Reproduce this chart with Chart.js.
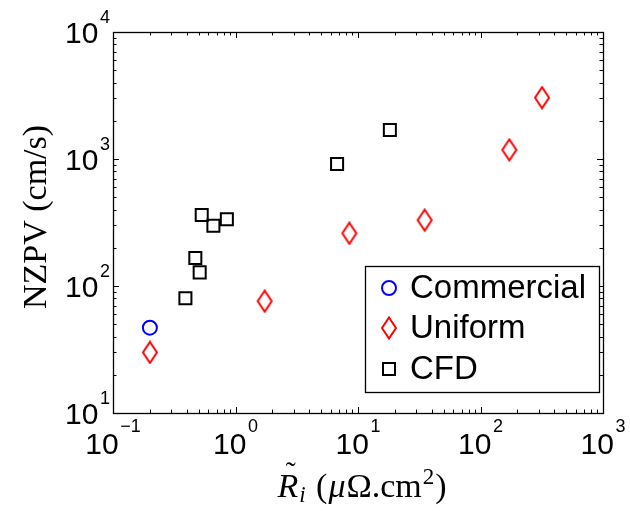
<!DOCTYPE html>
<html>
<head>
<meta charset="utf-8">
<script src="https://cdn.jsdelivr.net/npm/chart.js@4/dist/chart.umd.min.js"></script>
<style>
  body { margin: 0; background: #fff; }
  #wrap { width: 630px; height: 511px; position: relative; }
</style>
</head>
<body>
<div id="wrap"><canvas id="mainChart"></canvas></div>
<script>
// Data
const commercialX = [0.2];
const commercialY = [47];
const uniformX = [0.2, 1.73, 8.5, 35, 172, 318];
const uniformY = [30, 76, 260, 330, 1180, 3040];
const cfdX = [0.39, 0.47, 0.51, 0.53, 0.66, 0.85, 6.75, 18.2];
const cfdY = [80, 166, 128, 362, 298, 335, 914, 1690];

const seriesNames = ['Commercial', 'Uniform', 'CFD'];
const xTicks = [0.1, 1, 10, 100, 1000];
const xTickExp = ['\u22121', '0', '1', '2', '3'];
const yTicks = [10, 100, 1000, 10000];
const yTickExp = ['1', '2', '3', '4'];

function toPoints(xs, ys) {
    return xs.map((x, i) => ({ x: x, y: ys[i] }));
}

// tall diamond marker like matlab's 'd'
function makeDiamond() {
    const c = document.createElement('canvas');
    c.width = 18; c.height = 24;
    const g = c.getContext('2d');
    g.strokeStyle = '#ff0000';
    g.lineWidth = 2;
    g.beginPath();
    g.moveTo(9, 1.5);
    g.lineTo(16, 12);
    g.lineTo(9, 22.5);
    g.lineTo(2, 12);
    g.closePath();
    g.stroke();
    return c;
}
const diamond = makeDiamond();

const tickFont = '30px "Liberation Sans", Arial, sans-serif';
const supFont = '18px "Liberation Sans", Arial, sans-serif';

const axesPlugin = {
    id: 'matlabAxes',
    afterDraw(chart) {
        const ctx = chart.ctx;
        const a = chart.chartArea;
        const xs = chart.scales.x, ys = chart.scales.y;
        ctx.save();
        ctx.strokeStyle = '#000';
        ctx.lineWidth = 1.3;
        ctx.strokeRect(a.left + 0.5, a.top + 0.5, a.right - a.left, a.bottom - a.top);

        // ticks, inward, on all four sides
        ctx.lineWidth = 1;
        ctx.beginPath();
        xTicks.forEach((t, i) => {
            for (let m = 1; m <= 9; m++) {
                if (i === xTicks.length - 1 && m > 1) break;
                const px = Math.round(xs.getPixelForValue(t * m)) + 0.5;
                const len = m === 1 ? 6 : 3.5;
                ctx.moveTo(px, a.bottom); ctx.lineTo(px, a.bottom - len);
                ctx.moveTo(px, a.top); ctx.lineTo(px, a.top + len);
            }
        });
        yTicks.forEach((t, i) => {
            for (let m = 1; m <= 9; m++) {
                if (i === yTicks.length - 1 && m > 1) break;
                const py = Math.round(ys.getPixelForValue(t * m)) + 0.5;
                const len = m === 1 ? 6 : 3.5;
                ctx.moveTo(a.left, py); ctx.lineTo(a.left + len, py);
                ctx.moveTo(a.right, py); ctx.lineTo(a.right - len, py);
            }
        });
        ctx.stroke();

        // tick labels with superscript exponents
        ctx.fillStyle = '#000';
        ctx.textBaseline = 'alphabetic';
        ctx.textAlign = 'left';
        xTicks.forEach((t, i) => {
            const px = xs.getPixelForValue(t);
            ctx.font = tickFont;
            const w1 = ctx.measureText('10').width;
            ctx.font = supFont;
            const w2 = ctx.measureText(xTickExp[i]).width;
            const x0 = px - (w1 + 1.5 + w2) / 2;
            ctx.font = tickFont;
            ctx.fillText('10', x0, a.bottom + 41);
            ctx.font = supFont;
            ctx.fillText(xTickExp[i], x0 + w1 + 1.5, a.bottom + 19);
        });
        yTicks.forEach((t, i) => {
            const py = ys.getPixelForValue(t);
            ctx.font = tickFont;
            const w1 = ctx.measureText('10').width;
            ctx.font = supFont;
            const w2 = ctx.measureText(yTickExp[i]).width;
            const x0 = a.left - 3 - w2 - 1.5 - w1;
            ctx.font = tickFont;
            ctx.fillText('10', x0, py + 11);
            ctx.font = supFont;
            ctx.fillText(yTickExp[i], x0 + w1 + 1.5, py - 9);
        });

        // y axis title
        ctx.save();
        ctx.translate(46, 217);
        ctx.rotate(-Math.PI / 2);
        ctx.textAlign = 'center';
        ctx.font = '34px "Liberation Serif", "Times New Roman", serif';
        ctx.fillText('NZPV (cm/s)', 0, 0);
        ctx.restore();

        // x axis title: R~_i (μΩ.cm²)
        const big = '34px "Liberation Serif", serif';
        const bigIt = 'italic 34px "Liberation Serif", serif';
        const small = '23px "Liberation Serif", serif';
        const smallIt = 'italic 23px "Liberation Serif", serif';
        const parts = [
            { t: 'R', f: bigIt, dy: 0, gap: 1 },
            { t: 'i', f: smallIt, dy: 5, gap: 2 },
            { t: ' (', f: big, dy: 0, gap: 1 },
            { t: '\u03bc', f: bigIt, dy: 0, gap: 1 },
            { t: '\u03a9.cm', f: big, dy: 0, gap: 1 },
            { t: '2', f: small, dy: -13, gap: 1 },
            { t: ')', f: big, dy: 0, gap: 0 }
        ];
        let total = 0;
        parts.forEach(p => { ctx.font = p.f; p.w = ctx.measureText(p.t).width; total += p.w + p.gap; });
        let cx = 362 - total / 2;
        const base = 497;
        parts.forEach((p, k) => {
            ctx.font = p.f;
            ctx.fillText(p.t, cx, base + p.dy);
            if (k === 0) {
                ctx.font = '30px "Liberation Serif", serif';
                ctx.textAlign = 'center';
                ctx.fillText('\u02dc', cx + p.w / 2 + 3, base - 15);
                ctx.textAlign = 'left';
            }
            cx += p.w + p.gap;
        });

        // legend box
        const lx = 365, ly = 266, lw = 234, lh = 126;
        ctx.fillStyle = '#fff';
        ctx.fillRect(lx, ly, lw, lh);
        ctx.strokeStyle = '#000';
        ctx.lineWidth = 1.3;
        ctx.strokeRect(lx + 0.5, ly + 0.5, lw, lh);
        const rows = [288, 328, 369];
        const mx = 389;
        // circle
        ctx.strokeStyle = '#0000ff';
        ctx.lineWidth = 2;
        ctx.beginPath();
        ctx.arc(mx, rows[0], 7, 0, Math.PI * 2);
        ctx.stroke();
        // diamond
        ctx.drawImage(diamond, mx - diamond.width / 2, rows[1] - diamond.height / 2);
        // square
        ctx.strokeStyle = '#000';
        ctx.strokeRect(mx - 6, rows[2] - 6, 12, 12);
        ctx.fillStyle = '#000';
        ctx.font = '33px "Liberation Sans", Arial, sans-serif';
        ctx.textBaseline = 'middle';
        seriesNames.forEach((n, i) => ctx.fillText(n, 410, rows[i] + 1));
        ctx.restore();
    }
};

const ctx = document.getElementById('mainChart').getContext('2d');
new Chart(ctx, {
    type: 'scatter',
    data: {
        datasets: [
            {
                label: seriesNames[0],
                data: toPoints(commercialX, commercialY),
                pointStyle: 'circle',
                radius: 7,
                borderColor: '#0000ff',
                backgroundColor: 'rgba(0,0,0,0)',
                borderWidth: 2
            },
            {
                label: seriesNames[1],
                data: toPoints(uniformX, uniformY),
                pointStyle: diamond,
                radius: 9
            },
            {
                label: seriesNames[2],
                data: toPoints(cfdX, cfdY),
                pointStyle: 'rect',
                radius: 8.5,
                borderColor: '#000',
                backgroundColor: 'rgba(0,0,0,0)',
                borderWidth: 2
            }
        ]
    },
    options: {
        responsive: true,
        maintainAspectRatio: false,
        animation: false,
        events: [],
        layout: { padding: { left: 113, right: 27, top: 32, bottom: 98 } },
        plugins: {
            legend: { display: false },
            tooltip: { enabled: false }
        },
        scales: {
            x: { type: 'logarithmic', min: 0.1, max: 1000, display: false },
            y: { type: 'logarithmic', min: 10, max: 10000, display: false }
        }
    },
    plugins: [axesPlugin]
});
</script>
</body>
</html>
